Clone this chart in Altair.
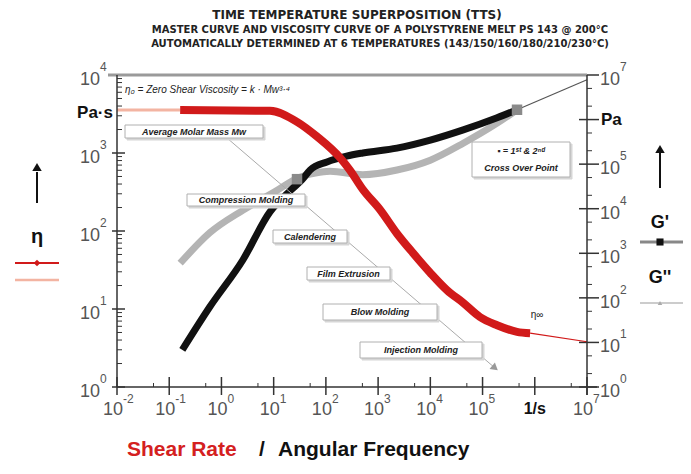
import altair as alt
import pandas as pd

# ---------------- data ----------------
# viscosity eta [Pa s] vs shear rate [1/s]
eta0_w = [0.01, 0.162]
eta0_v = [3550, 3550]
eta_w = [0.162, 8.5, 28, 68, 186, 288, 513, 1100, 2290, 4680, 10000, 20900,
         42700, 89100, 190000, 457000, 813000]
eta_v = [3550, 3470, 2510, 1620, 871, 603, 339, 186, 93, 52, 29, 17.4,
         12, 7.9, 6.2, 5.1, 4.9]
etainf_w = [813000, 1e7]
etainf_v = [4.9, 3.8]

# storage modulus G' [Pa] vs angular frequency [1/s]
g1_w = [0.178, 0.60, 2.57, 8.5, 20.4, 35, 50, 105, 250, 510, 2290, 10000,
        42700, 190000, 457000]
g1_v = [6.8, 63, 708, 8500, 25000, 44700, 74000, 112000, 151000, 178000,
        229000, 347000, 589000, 1.1e6, 1.66e6]
# loss modulus G'' [Pa]
g2_w = [0.162, 0.60, 2.6, 11.7, 28, 63, 120, 510, 2300, 10000, 42700,
        190000, 457000]
g2_v = [600, 2900, 9300, 26000, 48000, 63000, 69000, 58000, 74000, 123000,
        295000, 830000, 1.66e6]
ext_w = [457000, 1e7]
ext_v = [1.66e6, 7.8e6]
cross_w = [28, 457000]
cross_v = [46000, 1.66e6]

# tick labels
x_major = [0.01, 0.1, 1, 10, 100, 1000, 10000, 100000, 1e7]
x_exp = ["-2", "-1", "0", "1", "2", "3", "4", "5", "7"]
yl_major = [1, 10, 100, 1000, 10000]
yl_exp = ["0", "1", "2", "3", "4"]
yr_major = [1, 10, 100, 1000, 10000, 100000, 1e7]
yr_exp = ["0", "1", "2", "3", "4", "5", "7"]

title_lines = [
    "TIME TEMPERATURE SUPERPOSITION (TTS)",
    "MASTER CURVE AND VISCOSITY CURVE OF A POLYSTYRENE MELT   PS 143 @ 200°C",
    "AUTOMATICALLY DETERMINED AT 6 TEMPERATURES   (143/150/160/180/210/230°C)",
]

# ---------------- helpers ----------------
FONT = "Liberation Sans"
W, H = 470, 312

XS = alt.Scale(type="log", domain=[0.01, 1e7], nice=False)
YLS = alt.Scale(type="log", domain=[1, 1e4], nice=False)
YRS = alt.Scale(type="log", domain=[1, 1e7], nice=False)


def X():
    return alt.X("w:Q", scale=XS, axis=None)


def YL():
    return alt.Y("v:Q", scale=YLS, axis=None)


def YR():
    return alt.Y("v:Q", scale=YRS, axis=None)


def df(w, v):
    return pd.DataFrame({"w": w, "v": v})


one = pd.DataFrame({"a": [0]})


def txt(t, x, y, size=9, align="center", color="#111", weight="normal",
        style="normal", font=FONT):
    return alt.Chart(one).mark_text(
        text=t, fontSize=size, align=align, baseline="middle", color=color,
        fontWeight=weight, fontStyle=style, font=font
    ).encode(x=alt.value(x), y=alt.value(y))


def rule(x1, y1, x2, y2, color="#333", width=1.5):
    return alt.Chart(one).mark_rule(color=color, strokeWidth=width).encode(
        x=alt.value(x1), y=alt.value(y1), x2=alt.value(x2), y2=alt.value(y2))


def rect(x1, y1, x2, y2, fill="white", stroke="#aaa", sw=1.0):
    return alt.Chart(one).mark_rect(fill=fill, stroke=stroke, strokeWidth=sw).encode(
        x=alt.value(x1), y=alt.value(y1), x2=alt.value(x2), y2=alt.value(y2))


def pt(x, y, shape, color, size=50, angle=0):
    return alt.Chart(one).mark_point(shape=shape, filled=True, color=color,
                                     size=size, angle=angle, opacity=1).encode(
        x=alt.value(x), y=alt.value(y))


def labelbox(x1, y1, x2, y2, lines, size=9):
    layers = [rect(x1 + 2, y1 + 2, x2 + 2, y2 + 2, fill="#d6d6d6", stroke="#d6d6d6"),
              rect(x1, y1, x2, y2, fill="white", stroke="#b0b0b0")]
    cx = (x1 + x2) / 2
    n = len(lines)
    for i, t in enumerate(lines):
        cy = y1 + (y2 - y1) * (i + 0.5) / n
        layers.append(txt(t, cx, cy, size=size, style="italic", weight="bold",
                          color="#222"))
    return layers


LAB = "#555"

# ---------------- moduli (right axis) ----------------
g2_line = alt.Chart(df(g2_w, g2_v)).mark_line(
    color="#b4b4b4", strokeWidth=7, interpolate="monotone").encode(x=X(), y=YR())
g1_line = alt.Chart(df(g1_w, g1_v)).mark_line(
    color="#111", strokeWidth=7, interpolate="monotone").encode(x=X(), y=YR())
ext_line = alt.Chart(df(ext_w, ext_v)).mark_line(color="#555", strokeWidth=1.2).encode(x=X(), y=YR())
cross_pts = alt.Chart(df(cross_w, cross_v)).mark_point(
    shape="square", filled=True, color="#8a8a8a", size=110, opacity=1).encode(x=X(), y=YR())

yr_minor = [m * 10 ** k for k in range(0, 7) for m in (2, 5)]
r_major = alt.Chart(pd.DataFrame({"v": yr_major + [1e6]})).mark_rule(
    color="#333", strokeWidth=1.5).encode(x=alt.value(W - 8), x2=alt.value(W + 12), y=YR())
r_minor = alt.Chart(pd.DataFrame({"v": yr_minor})).mark_rule(
    color="#333", strokeWidth=1).encode(x=alt.value(W), x2=alt.value(W + 5), y=YR())
r_lab = alt.Chart(pd.DataFrame({"v": yr_major, "e": yr_exp}))
r_base = r_lab.mark_text(text="10", align="left", baseline="middle", dy=5, fontSize=18,
                         color=LAB, font=FONT).encode(x=alt.value(W + 13), y=YR())
r_exp = r_lab.mark_text(align="left", baseline="middle", dy=-8, fontSize=12,
                        color=LAB, font=FONT).encode(x=alt.value(W + 33), y=YR(), text="e:N")
r_pa = alt.Chart(pd.DataFrame({"v": [1e6]})).mark_text(
    text="Pa", align="left", baseline="middle", fontSize=17, fontWeight="bold",
    color="#111", font=FONT).encode(x=alt.value(W + 14), y=YR())

g_group = alt.layer(g2_line, g1_line, ext_line, cross_pts, r_major, r_minor,
                    r_base, r_exp, r_pa)

# ---------------- viscosity (left axis) ----------------
eta0_line = alt.Chart(df(eta0_w, eta0_v)).mark_line(color="#f3b4a2", strokeWidth=3).encode(x=X(), y=YL())
eta_line = alt.Chart(df(eta_w, eta_v)).mark_line(
    color="#d11a1a", strokeWidth=8, interpolate="monotone").encode(x=X(), y=YL())
etainf_line = alt.Chart(df(etainf_w, etainf_v)).mark_line(color="#d11a1a", strokeWidth=1.2).encode(x=X(), y=YL())

yl_minor = [m * 10 ** k for k in range(0, 4) for m in range(2, 10)]
l_major = alt.Chart(pd.DataFrame({"v": yl_major})).mark_rule(
    color="#333", strokeWidth=1.5).encode(x=alt.value(-5), x2=alt.value(8), y=YL())
l_minor = alt.Chart(pd.DataFrame({"v": yl_minor})).mark_rule(
    color="#333", strokeWidth=1).encode(x=alt.value(0), x2=alt.value(5), y=YL())
l_lab = alt.Chart(pd.DataFrame({"v": yl_major, "e": yl_exp}))
l_base = l_lab.mark_text(text="10", align="right", baseline="middle", dy=5, fontSize=18,
                         color=LAB, font=FONT).encode(x=alt.value(-17), y=YL())
l_exp = l_lab.mark_text(align="left", baseline="middle", dy=-8, fontSize=12,
                        color=LAB, font=FONT).encode(x=alt.value(-17), y=YL(), text="e:N")

eta_group = alt.layer(eta0_line, eta_line, etainf_line, l_major, l_minor, l_base, l_exp)

# ---------------- x axis + decorations ----------------
x_minor = [5 * 10 ** k for k in range(-2, 7)]
b_major = alt.Chart(pd.DataFrame({"w": x_major + [1e6]})).mark_rule(
    color="#333", strokeWidth=1.5).encode(x=X(), y=alt.value(H - 10), y2=alt.value(H + 8))
b_minor = alt.Chart(pd.DataFrame({"w": x_minor})).mark_rule(
    color="#333", strokeWidth=1).encode(x=X(), y=alt.value(H - 4), y2=alt.value(H))
b_lab = alt.Chart(pd.DataFrame({"w": x_major, "e": x_exp}))
b_base = b_lab.mark_text(text="10", align="center", baseline="middle", dx=-4, fontSize=18,
                         color=LAB, font=FONT).encode(x=X(), y=alt.value(H + 23))
b_exp = b_lab.mark_text(align="left", baseline="middle", dx=6, fontSize=12,
                        color=LAB, font=FONT).encode(x=X(), y=alt.value(H + 12), text="e:N")
b_unit = alt.Chart(pd.DataFrame({"w": [1e6]})).mark_text(
    text="1/s", align="center", baseline="middle", fontSize=16, fontWeight="bold",
    color="#111", font=FONT).encode(x=X(), y=alt.value(H + 22))

deco = [
    rule(-9, 0, W, 0, color="#9a9a9a", width=3),
    rule(0, 0, 0, H),
    rule(W, 0, W, H + 8),
    rule(0, H, W + 10, H),
    b_major, b_minor, b_base, b_exp, b_unit,
    # titles
    txt(title_lines[0], 240, -60, size=12, weight="bold", color="#222", font="DejaVu Sans"),
    txt(title_lines[1], 263, -45, size=10, weight="bold", color="#222", font="DejaVu Sans"),
    txt(title_lines[2], 263, -31, size=10, weight="bold", color="#222", font="DejaVu Sans"),
    # left side legend
    txt("Pa·s", -4, 38, size=17, align="right", weight="bold"),
    rule(-80, 97, -80, 128, color="#111", width=2),
    pt(-80, 92, "triangle-up", "#111", size=90),
    txt("η", -80, 162, size=20, weight="bold"),
    rule(-102, 188, -58, 188, color="#d11a1a", width=2),
    pt(-80, 188, "diamond", "#d11a1a", size=45),
    rule(-102, 205, -58, 205, color="#f3b4a2", width=2.5),
    # right side legend
    rule(543, 78, 543, 113, color="#111", width=2),
    pt(543, 74, "triangle-up", "#111", size=90),
    txt("G'", 543, 148, size=18, weight="bold"),
    rule(523, 167, 566, 167, color="#888", width=3),
    pt(543, 167, "square", "#111", size=50),
    txt("G''", 543, 203, size=18, weight="bold"),
    rule(523, 228, 566, 228, color="#bbb", width=1.5),
    pt(543, 228, "triangle-up", "#aaa", size=20),
    # annotations
    txt("η₀ = Zero Shear Viscosity = k · Mw³·⁴", 8, 15, size=10, align="left",
        style="italic", color="#222"),
    rule(110, 63, 378, 293, color="#aaa", width=1),
    pt(378, 293, "triangle-right", "#999", size=70, angle=40),
    txt("η∞", 420, 240, size=10, color="#222"),
]
deco += labelbox(8, 50, 146, 63, ["Average Molar Mass Mw"], size=9)
deco += labelbox(70, 119, 188, 131, ["Compression Molding"])
deco += labelbox(156, 155, 230, 168, ["Calendering"])
deco += labelbox(190, 192, 273, 205, ["Film Extrusion"])
deco += labelbox(206, 229, 320, 245, ["Blow Molding"])
deco += labelbox(243, 267, 365, 283, ["Injection Molding"])
deco += labelbox(355, 67, 453, 102, ["▪ = 1ˢᵗ & 2ⁿᵈ", "Cross Over Point"])
# x-axis title
deco += [
    txt("Shear Rate", 10, 375, size=21, align="left", weight="bold", color="#d42020"),
    txt("/", 145, 375, size=21, align="center", weight="bold", color="#111"),
    txt("Angular Frequency", 161, 375, size=21, align="left", weight="bold", color="#111"),
]

deco_group = alt.layer(*deco)

chart = alt.layer(g_group, eta_group, deco_group).resolve_scale(
    y="independent"
).properties(
    width=W, height=H,
    padding={"left": 109, "top": 67, "right": 96, "bottom": 79},
    autosize=alt.AutoSizeParams(type="none"),
).configure_view(stroke=None)

chart.save("out.html", embed_options={"renderer": "svg", "actions": False})
